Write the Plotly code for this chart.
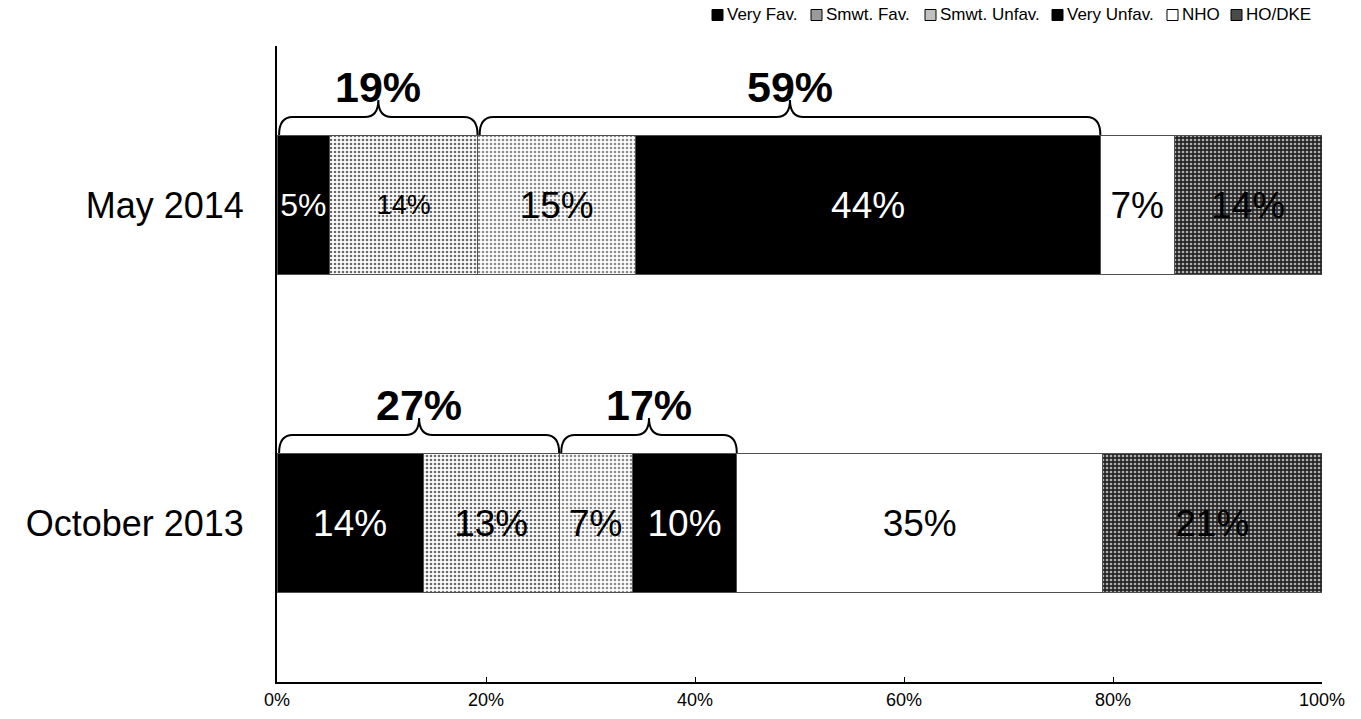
import plotly.graph_objects as go

# Survey waves (bottom to top on the chart)
periods = ["October 2013", "May 2014"]

# Share of respondents per response, one list per series, ordered like periods
very_fav = [14, 5]
smwt_fav = [13, 14]
smwt_unfav = [7, 15]
very_unfav = [10, 44]
nho = [35, 7]
ho_dke = [21, 14]

series_names = ["Very Fav.", "Smwt. Fav.", "Smwt. Unfav.", "Very Unfav.", "NHO", "HO/DKE"]
series_values = [very_fav, smwt_fav, smwt_unfav, very_unfav, nho, ho_dke]

x_tick_vals = [0, 20, 40, 60, 80, 100]
x_tick_text = ["0%", "20%", "40%", "60%", "80%", "100%"]

FONT = "Liberation Sans, Arial, sans-serif"

# Canvas and plot-area geometry in pixels
W, H = 1361, 719
ML, MR, MT, MB = 277, 39, 46, 37
PW, PH = W - ML - MR, H - MT - MB

# Fill style per series: (bg colour, pattern shape, pattern fg colour, label colour, legend swatch)
styles = [
    ("#000000", "", "#000000", "white", "#000000"),
    ("#ffffff", ".", "#6a6a6a", "black", "#9a9a9a"),
    ("#ffffff", ".", "#8a8a8a", "black", "#c0c0c0"),
    ("#000000", "", "#000000", "white", "#000000"),
    ("#ffffff", "", "#ffffff", "black", "#ffffff"),
    ("#262626", ".", "#b0b0b0", "black", "#4a4a4a"),
]

# label sizes per point (October, May); the narrow May segments get smaller labels
label_sizes = [
    [37, 32],
    [37, 27],
    [37, 37],
    [37, 37],
    [37, 37],
    [37, 37],
]

fig = go.Figure()
for name, vals, (bg, shape, fg, tc, _), sizes in zip(series_names, series_values, styles, label_sizes):
    pattern = dict(shape=shape, bgcolor=bg, fgcolor=fg, size=4, solidity=0.35, fillmode="replace") if shape else None
    fig.add_trace(go.Bar(
        y=periods,
        x=vals,
        name=name,
        orientation="h",
        marker=dict(color=bg, line=dict(color="#505050", width=1), pattern=pattern),
        text=[f"{v}%" for v in vals],
        textposition="inside",
        insidetextanchor="middle",
        textangle=0,
        textfont=dict(family=FONT, color=tc, size=sizes),
        hoverinfo="skip",
        showlegend=False,
    ))

BARGAP = 0.56
half = (1 - BARGAP) / 2

# Braces grouping favourable and unfavourable answers above each bar
shapes = []
annotations = []
for idx, period in enumerate(periods):
    total = sum(s[idx] for s in series_values)
    cum = [0]
    for s in series_values:
        cum.append(cum[-1] + s[idx])
    for a, b in [(0, 2), (2, 4)]:
        x0 = cum[a] / total * 100 + 0.2
        x1 = cum[b] / total * 100
        xm = (x0 + x1) / 2
        r = 1.3
        h1, h2 = 18, 35
        path = (
            f"M {x0},0 Q {x0},{h1} {x0 + r},{h1} "
            f"L {xm - r},{h1} Q {xm},{h1} {xm},{h2} "
            f"Q {xm},{h1} {xm + r},{h1} "
            f"L {x1 - r},{h1} Q {x1},{h1} {x1},0"
        )
        shapes.append(dict(
            type="path", path=path, xref="x", yref="y",
            ysizemode="pixel", yanchor=idx + half,
            line=dict(color="black", width=2), fillcolor="rgba(0,0,0,0)",
        ))
        share = sum(series_values[k][idx] for k in range(a, b))
        annotations.append(dict(
            x=xm, y=idx + half, xref="x", yref="y",
            text=f"<b>{share}%</b>", showarrow=False,
            yanchor="bottom", yshift=22,
            font=dict(family=FONT, size=43, color="black"),
        ))

# Compact legend row along the top edge: swatch + label per series
LEG_FONT = 17
legend_text_x = [726, 825, 939, 1066, 1181, 1245]
legend_y = 15
sw = 11
for name, tx, st in zip(series_names, legend_text_x, styles):
    sx1 = tx - 3
    sx0 = sx1 - sw
    shapes.append(dict(
        type="rect", xref="paper", yref="paper",
        x0=(sx0 - ML) / PW, x1=(sx1 - ML) / PW,
        y0=(H - MB - (legend_y + sw / 2)) / PH, y1=(H - MB - (legend_y - sw / 2)) / PH,
        fillcolor=st[4], line=dict(color="black", width=1),
    ))
    annotations.append(dict(
        x=(tx - ML) / PW, y=(H - MB - legend_y) / PH, xref="paper", yref="paper",
        text=name, showarrow=False, xanchor="left", yanchor="middle", borderpad=0,
        font=dict(family=FONT, size=LEG_FONT, color="black"),
    ))

fig.update_layout(
    width=W, height=H,
    margin=dict(l=ML, r=MR, t=MT, b=MB, autoexpand=False),
    paper_bgcolor="white", plot_bgcolor="white",
    barmode="stack", barnorm="percent", bargap=BARGAP,
    showlegend=False,
    shapes=shapes,
    annotations=annotations,
    font=dict(family=FONT, color="black"),
)
fig.update_xaxes(
    range=[0, 100], tickvals=x_tick_vals, ticktext=x_tick_text,
    ticks="inside", ticklen=5, tickcolor="black",
    showline=True, linecolor="black", linewidth=2,
    showgrid=False, zeroline=False,
    tickfont=dict(family=FONT, size=18, color="black"),
    fixedrange=True,
)
fig.update_yaxes(
    categoryorder="array", categoryarray=periods,
    showline=True, linecolor="black", linewidth=2,
    showgrid=False, zeroline=False, ticks="", ticklabelstandoff=24,
    tickfont=dict(family=FONT, size=36, color="black"),
    range=[-0.5, 1.5], fixedrange=True,
)

fig.write_html("out.html")
